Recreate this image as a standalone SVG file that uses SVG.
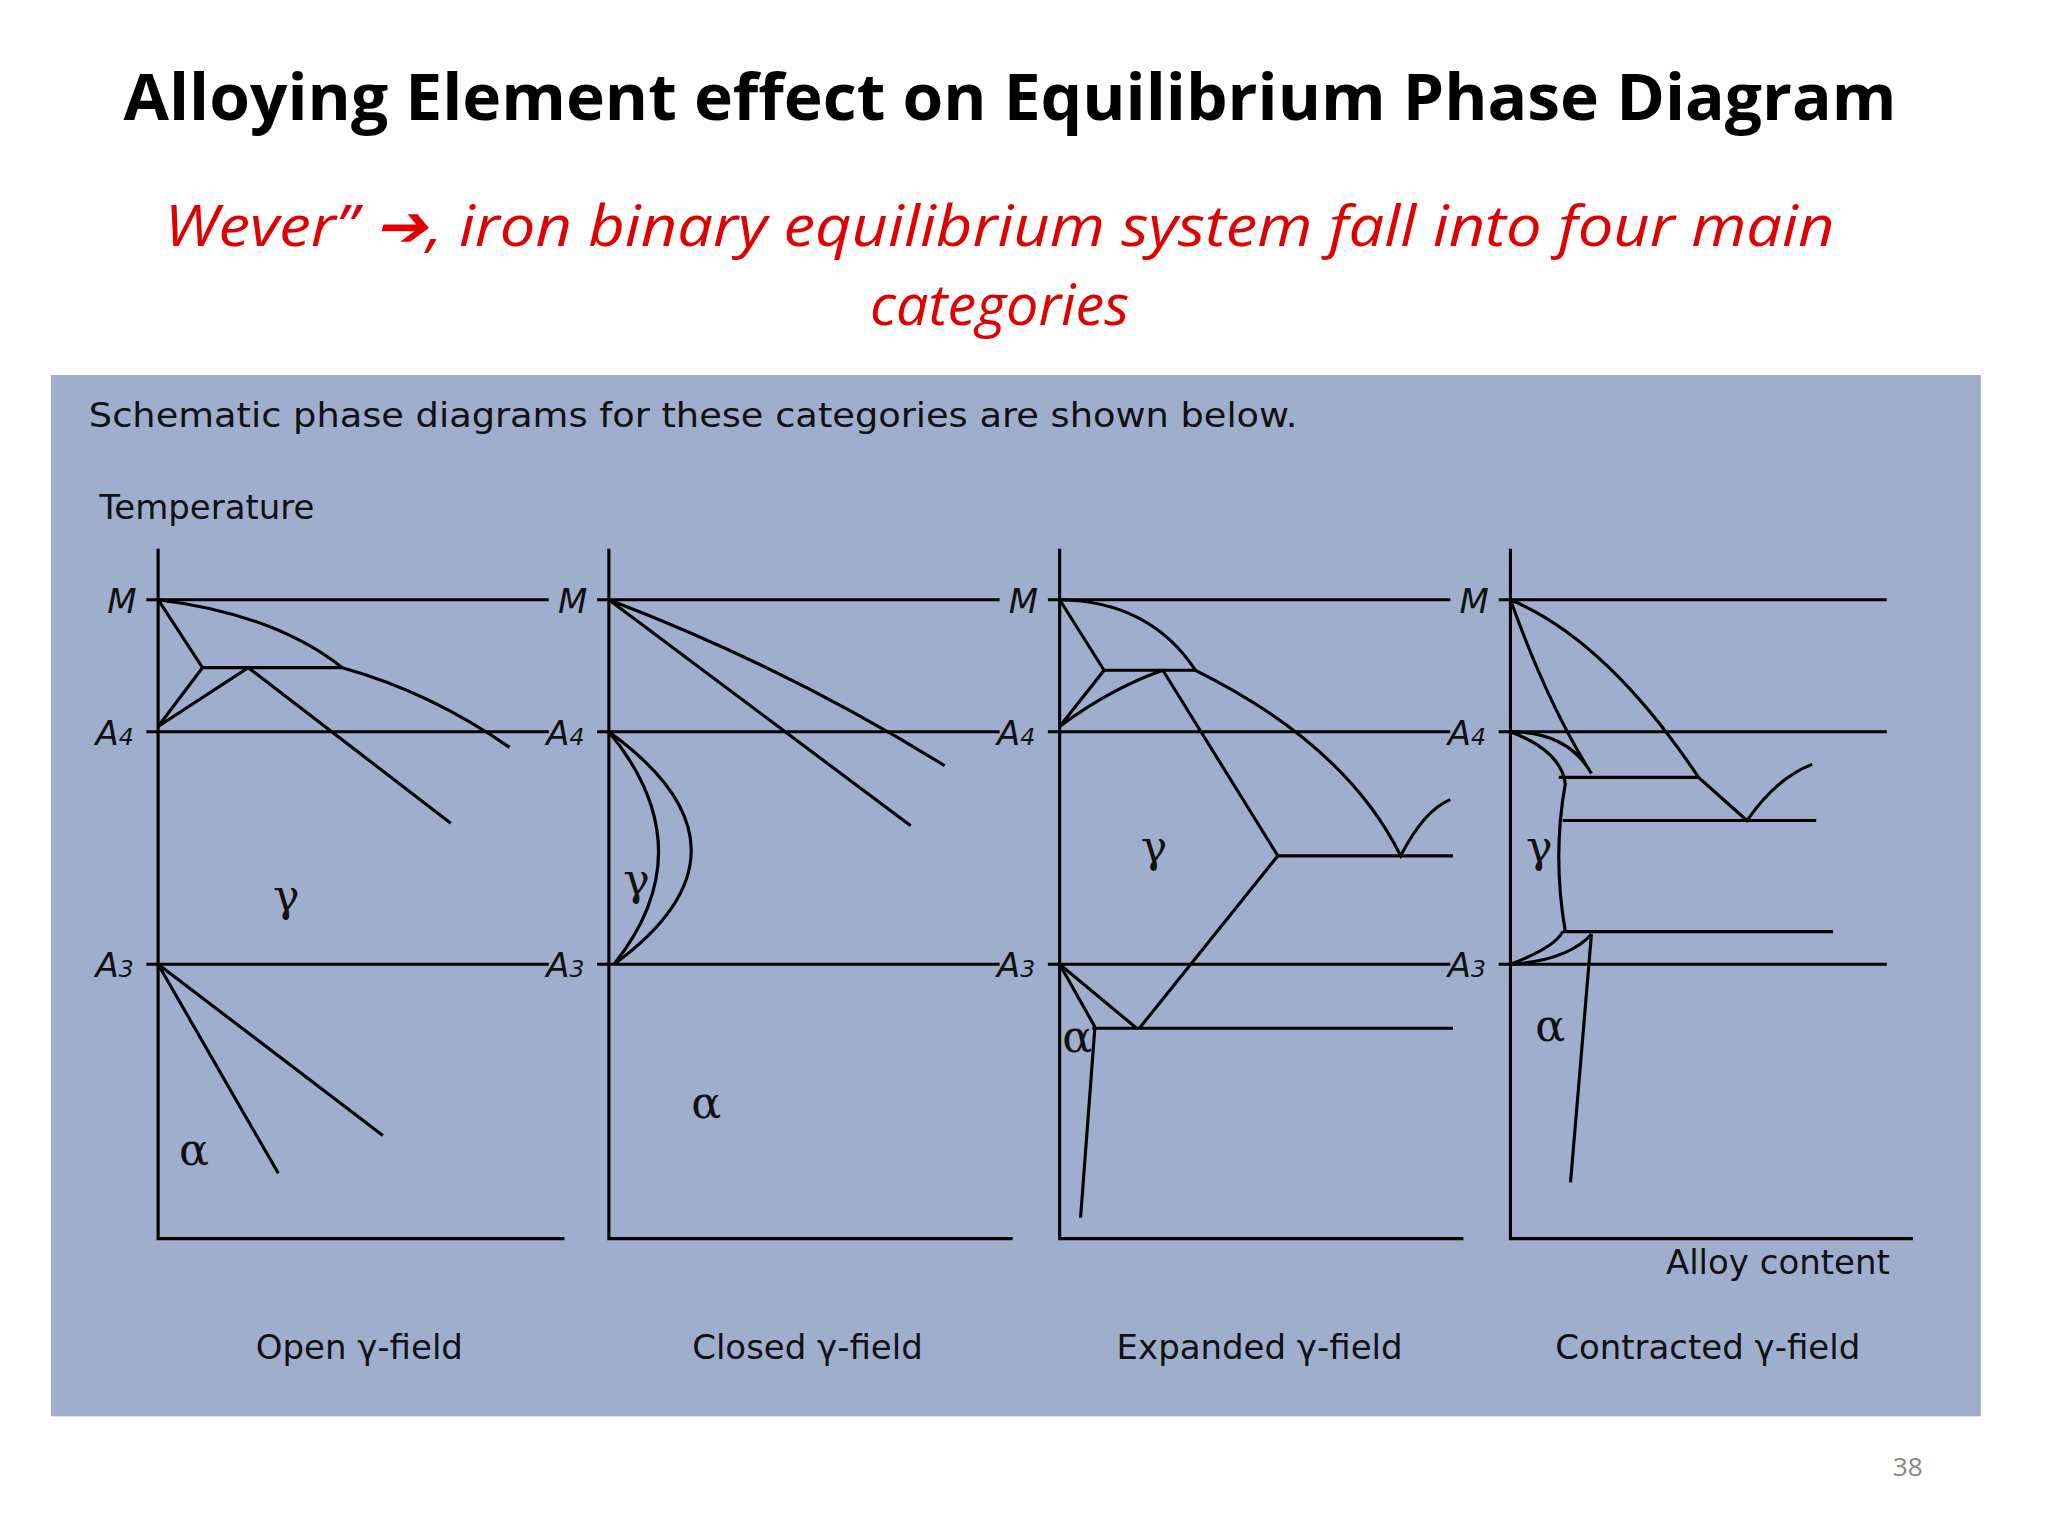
<svg xmlns="http://www.w3.org/2000/svg" width="2048" height="1536" viewBox="0 0 2048 1536">
<style>
.ln{fill:none;stroke:#000;stroke-width:2.4}
.lb{font-family:"DejaVu Sans",sans-serif;font-size:26px;fill:#111}
.ax{font-family:"DejaVu Sans",sans-serif;font-size:26px;font-style:italic;fill:#111}
.gr{font-family:"DejaVu Serif",serif;font-size:34px;fill:#111}
</style>
<rect width="2048" height="1536" fill="#fff"/>
<g transform="scale(1.3066)">
<g id="title"><text x="773" y="92" text-anchor="middle" font-family="Open Sans,sans-serif" font-weight="bold" font-size="50" textLength="1357" lengthAdjust="spacingAndGlyphs">Alloying Element effect on Equilibrium Phase Diagram</text></g>
<g id="subtitle" font-family="Open Sans,sans-serif" font-style="italic" font-size="44" fill="#e00000" text-anchor="middle">
<text x="765" y="188" textLength="1278" lengthAdjust="spacingAndGlyphs">Wever”  ➔, iron binary equilibrium system fall into four main</text>
<text x="765" y="249">categories</text></g>
<rect id="panel" x="39" y="287" width="1477" height="797" fill="#a0aece"/>
<text class="lb" x="68" y="327" textLength="925" lengthAdjust="spacingAndGlyphs">Schematic phase diagrams for these categories are shown below.</text>
<text class="lb" x="76" y="397">Temperature</text>
<g id="p1">
<path class="ln" d="M121,420V948H432M112,459H420M112,560H420M112,738H420"/>
<path class="ln" d="M121,459Q210,470 262,511Q330,530 390,572M155,511H262M121,459L155,511L121,556L190,511L345,630M121,738L213,898M121,738L293,869"/>
<text class="ax" x="82" y="469">M</text><text class="ax" x="73" y="570">A<tspan font-size="18">4</tspan></text><text class="ax" x="73" y="748">A<tspan font-size="18">3</tspan></text>
<text class="gr" x="209" y="697">γ</text><text class="gr" x="137" y="892">α</text>
<text class="lb" x="275" y="1040" text-anchor="middle">Open γ-field</text></g>
<g id="p2">
<path class="ln" d="M466,420V948H775M457,459H765M457,560H765M457,738H765"/>
<path class="ln" d="M466,459Q600,510 723,586M466,459L697,632M466,560Q590,650 470,738M466,560Q540,650 470,738"/>
<text class="ax" x="427" y="469">M</text><text class="ax" x="418" y="570">A<tspan font-size="18">4</tspan></text><text class="ax" x="418" y="748">A<tspan font-size="18">3</tspan></text>
<text class="gr" x="477" y="685">γ</text><text class="gr" x="529" y="856">α</text>
<text class="lb" x="618" y="1040" text-anchor="middle">Closed γ-field</text></g>
<g id="p3">
<path class="ln" d="M811,420V948H1120M802,459H1110M802,560H1110M802,738H1110"/>
<path class="ln" d="M811,459Q880,460 915,513Q1030,570 1072,655Q1090,620 1110,612M845,513H915M811,459L845,513L811,556M811,556Q850,527 890,513L978,655L872,787M978,655H1112M811,738L870,787M811,738L838,786M836,787H1112M838,786L827,932"/>
<text class="ax" x="772" y="469">M</text><text class="ax" x="763" y="570">A<tspan font-size="18">4</tspan></text><text class="ax" x="763" y="748">A<tspan font-size="18">3</tspan></text>
<text class="gr" x="873" y="660">γ</text><text class="gr" x="813" y="805">α</text>
<text class="lb" x="964" y="1040" text-anchor="middle">Expanded γ-field</text></g>
<g id="p4">
<path class="ln" d="M1156,420V948H1464M1147,459H1444M1147,560H1444M1147,738H1444"/>
<path class="ln" d="M1156,459Q1185,540 1218,592M1156,459Q1230,490 1300,595L1337,628Q1360,595 1387,585M1193,595H1300M1196,628H1390M1196,713H1403M1156,560Q1200,560 1218,592M1156,560Q1195,575 1198,600Q1188,655 1198,713M1156,738Q1200,735 1218,715M1156,738Q1190,725 1196,713M1218,715L1202,905"/>
<text class="ax" x="1117" y="469">M</text><text class="ax" x="1108" y="570">A<tspan font-size="18">4</tspan></text><text class="ax" x="1108" y="748">A<tspan font-size="18">3</tspan></text>
<text class="gr" x="1168" y="660">γ</text><text class="gr" x="1175" y="797">α</text>
<text class="lb" x="1275" y="975">Alloy content</text>
<text class="lb" x="1307" y="1040" text-anchor="middle">Contracted γ-field</text></g>
<text x="1460" y="1130" text-anchor="middle" font-family="Open Sans,sans-serif" font-size="20" fill="#888">38</text>
</g>
</svg>
